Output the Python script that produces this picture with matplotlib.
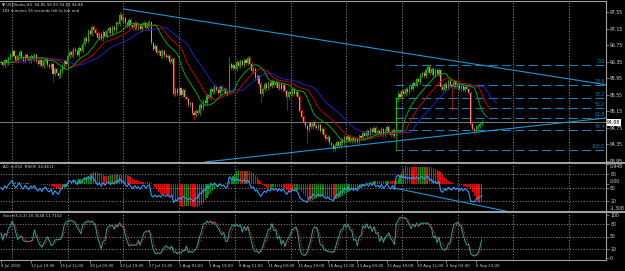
import numpy as np
import pandas as pd
import matplotlib
matplotlib.use("Agg")  # no display in the sandbox
import matplotlib.pyplot as plt
from matplotlib.lines import Line2D

# ── Data (USDIndex H4, 260 bars) ─────────────────────────────────────────────
CLOSE = [
    96.35, 96.28, 96.40, 96.33, 96.45, 96.52, 96.62, 96.48, 96.40, 96.50,
    96.58, 96.46, 96.38, 96.52, 96.44, 96.36, 96.50, 96.42, 96.52, 96.38,
    96.30, 96.40, 96.26, 96.36, 96.42, 96.28, 96.22, 96.30, 96.05, 96.18,
    96.08, 96.00, 96.14, 96.24, 96.36, 96.30, 96.48, 96.58, 96.52, 96.66,
    96.60, 96.52, 96.68, 96.62, 96.78, 96.92, 96.86, 97.10, 97.02, 97.20,
    97.12, 97.04, 96.92, 97.02, 96.90, 97.08, 96.98, 97.10, 97.16, 97.06,
    97.20, 97.12, 97.30, 97.26, 97.48, 97.36, 97.42, 97.28, 97.22, 97.36,
    97.24, 97.16, 97.28, 97.18, 97.24, 97.14, 97.26, 97.30, 97.18, 97.28,
    97.32, 96.80, 96.66, 96.74, 96.56, 96.62, 96.50, 96.60, 96.52, 96.46,
    96.50, 96.34, 96.42, 95.58, 95.70, 95.60, 95.72, 95.54, 95.66, 95.50,
    95.44, 95.30, 95.36, 95.12, 95.06, 95.16, 95.10, 95.30, 95.24, 95.40,
    95.36, 95.54, 95.48, 95.70, 95.62, 95.74, 95.66, 95.60, 95.74, 95.64,
    95.70, 95.58, 95.62, 96.30, 96.20, 96.28, 96.18, 96.34, 96.24, 96.36,
    96.28, 96.40, 96.32, 96.44, 96.30, 96.12, 96.18, 95.96, 96.00, 95.80,
    95.58, 95.70, 95.80, 95.72, 95.84, 95.76, 95.88, 95.78, 95.86, 95.72,
    95.82, 95.70, 95.78, 95.64, 95.50, 95.62, 95.56, 95.68, 95.58, 95.62,
    95.50, 95.16, 95.02, 94.90, 94.80, 94.70, 94.86, 94.76, 94.90, 94.80,
    94.74, 94.82, 94.68, 94.72, 94.58, 94.48, 94.52, 94.38, 94.34, 94.24,
    94.32, 94.40, 94.30, 94.44, 94.38, 94.52, 94.46, 94.56, 94.44, 94.50,
    94.42, 94.48, 94.40, 94.56, 94.50, 94.62, 94.56, 94.68, 94.58, 94.72,
    94.64, 94.74, 94.62, 94.68, 94.60, 94.72, 94.58, 94.66, 94.76, 94.64,
    94.58, 94.70, 94.56, 95.45, 95.58, 95.50, 95.64, 95.56, 95.70, 95.62,
    95.74, 95.68, 95.84, 95.78, 95.94, 95.86, 96.02, 96.08, 96.00, 96.14,
    96.22, 96.08, 96.18, 96.04, 96.14, 96.06, 96.16, 95.74, 95.66, 95.82,
    95.72, 95.88, 95.78, 95.74, 95.86, 95.74, 95.82, 95.68, 95.78, 95.66,
    95.74, 95.68, 95.60, 94.84, 94.72, 94.66, 94.76, 94.80, 94.84, 94.88,
]
FIRST_OPEN = 96.33
WICK = 0.05                       # typical shadow length
# bars with clearly longer shadows: bar -> (high, low)
SPIKES = {
    28: (None, 95.86), 64: (97.56, None), 81: (97.34, None),
    104: (None, 94.94), 123: (96.47, None), 140: (None, 95.37),
    154: (None, 95.18), 165: (None, 94.38), 179: (None, 94.16),
    213: (None, 94.21), 230: (96.27, None), 243: (None, 95.18),
    256: (None, 94.65),
}

LAST_PRICE = 94.88
FIB_HIGH, FIB_LOW = 96.27, 94.21
FIB_RATIOS = [0.0, 23.6, 38.2, 50.0, 61.8, 76.4, 100.0]
FIB_START = 212.5

# trendlines as (bar, value) anchor pairs
TREND_UPPER = [(66.3, 97.63), (326.5, 95.79)]
TREND_LOWER = [(109.9, 93.92), (326.5, 94.99)]
TREND_RSI = [(213.0, 48.0), (273.0, -1.4)]

PRICE_TICKS = [97.55, 97.15, 96.75, 96.35, 95.95, 95.55, 95.15, 94.75, 94.35, 93.95]
XTICK_BARS = list(range(0, 257, 16))
XTICK_LABELS = [
    "8 Jul 2016", "12 Jul 19:00", "15 Jul 11:00", "20 Jul 03:00", "22 Jul 19:00",
    "27 Jul 11:00", "1 Aug 03:00", "3 Aug 19:00", "8 Aug 11:00", "11 Aug 03:00",
    "15 Aug 19:00", "18 Aug 11:00", "23 Aug 03:00", "25 Aug 19:00", "30 Aug 11:00",
    "2 Sep 03:00", "6 Sep 23:00",
]
GRID_BARS = [6, 36, 66, 96, 126, 156, 186, 216, 246, 276, 306]

# ── Colours ──────────────────────────────────────────────────────────────────
BG = "black"
FG = "#d4d4d4"
FRAME = "#a0a0a0"
BULL = "#00c000"
BEAR = "#ff7a7a"
BEAR_WICK = "#d02020"
AO_UP, AO_DN = "#009000", "#f00000"
JAW, TEETH, LIPS = "#2020c8", "#c00000", "#00a800"
TREND_C = "#1f97d4"
FIB_C = "#1a80b8"
GRID_C = "#c4c4c4"

W, H = 625, 271
XMIN, XMAX = -0.54, 326.0


def fy(y):
    return 1 - y / H


# ── Indicators from the price series ─────────────────────────────────────────
close = np.array(CLOSE)
open_ = np.r_[FIRST_OPEN, close[:-1]]
high = np.maximum(open_, close) + WICK
low = np.minimum(open_, close) - WICK
for b, (h, l) in SPIKES.items():
    if h is not None:
        high[b] = h
    if l is not None:
        low[b] = l
bars = np.arange(len(close))

median = pd.Series((high + low) / 2)
jaw = median.ewm(alpha=1 / 13, adjust=False).mean()
teeth = median.ewm(alpha=1 / 8, adjust=False).mean()
lips = median.ewm(alpha=1 / 5, adjust=False).mean()

ao = (median.rolling(5, min_periods=1).mean() - median.rolling(34, min_periods=1).mean()).values
ao_col = [AO_UP if i == 0 or ao[i] >= ao[i - 1] else AO_DN for i in range(len(ao))]

# RSI(9), Wilder smoothing seeded with the average move of the first bars
delta = np.diff(close, prepend=close[0])
seed = np.abs(delta[1:10]).mean() / 2
avg_gain, avg_loss = seed, seed
rsi = []
for d in delta:
    avg_gain = (avg_gain * 8 + max(d, 0)) / 9
    avg_loss = (avg_loss * 8 + max(-d, 0)) / 9
    rsi.append(100 * avg_gain / (avg_gain + avg_loss))

hh = pd.Series(high).rolling(5, min_periods=1).max()
ll = pd.Series(low).rolling(5, min_periods=1).min()
num = (pd.Series(close) - ll).rolling(3, min_periods=1).sum()
den = (hh - ll).rolling(3, min_periods=1).sum()
stoch_k = 100 * num / den
stoch_d = stoch_k.rolling(3, min_periods=1).mean()

# ── Figure ───────────────────────────────────────────────────────────────────
fig = plt.figure(figsize=(W / 100, H / 100), dpi=100, facecolor=BG)
ax1 = fig.add_axes([0, fy(162), 606 / W, 160 / H])
ax2 = fig.add_axes([0, fy(211), 606 / W, 47 / H])
ax3 = fig.add_axes([0, fy(260), 606 / W, 47 / H])
ax2r = ax2.twinx()

for ax in (ax1, ax2, ax2r, ax3):
    ax.set_facecolor(BG)
    ax.set_xlim(XMIN, XMAX)
    for s in ax.spines.values():
        s.set_visible(False)
    ax.tick_params(axis="x", bottom=False, labelbottom=False)
    ax.tick_params(axis="y", left=False, labelleft=False, right=True, labelright=True,
                   length=2, width=0.5, color=FRAME, labelsize=3.3, labelcolor=FG, pad=1)
ax2r.patch.set_visible(False)

for ax in (ax1, ax2, ax3):
    for b in GRID_BARS:
        ax.axvline(b, color=GRID_C, lw=0.5, ls=(0, (1.5, 2.5)), zorder=0)

# ── Main panel: candles, alligator, fib, trendlines ─────────────────────────
ax1.set_ylim(93.92, 97.80)
up = close >= open_
body = np.maximum(np.abs(close - open_), 0.008)
ax1.vlines(bars[up], low[up], high[up], color=BULL, lw=0.5, zorder=2)
ax1.vlines(bars[~up], low[~up], high[~up], color=BEAR_WICK, lw=0.5, zorder=2)
ax1.bar(bars[up], body[up], bottom=open_[up], width=0.6, color=BULL, lw=0, zorder=3)
ax1.bar(bars[~up], body[~up], bottom=close[~up], width=0.6, color=BEAR, lw=0, zorder=3)

ax1.plot(bars + 8, jaw, color=JAW, lw=0.7, zorder=4)
ax1.plot(bars + 5, teeth, color=TEETH, lw=0.7, zorder=4)
ax1.plot(bars + 3, lips, color=LIPS, lw=0.7, zorder=4)

ax1.axhline(LAST_PRICE, color="#7c7c7c", lw=0.7, zorder=1)

fib_levels = [FIB_HIGH - r / 100 * (FIB_HIGH - FIB_LOW) for r in FIB_RATIOS]
ax1.hlines(fib_levels, FIB_START, XMAX, colors=FIB_C, lw=0.8, linestyles=(0, (8, 4)), zorder=1)
for r, lv in zip(FIB_RATIOS, fib_levels):
    ax1.text(325.3, lv + 0.02, f"{r:.1f}", color=FIB_C, fontsize=3.3, ha="right", va="bottom")

for (xa, ya), (xb, yb) in (TREND_UPPER, TREND_LOWER):
    ax1.plot([xa, xb], [ya, yb], color=TREND_C, lw=0.8, zorder=5)

ax1.set_yticks(PRICE_TICKS)
ax1.set_yticklabels([f"{t:.2f}" for t in PRICE_TICKS])
ax1.text(1.002, LAST_PRICE, f"{LAST_PRICE:.2f}", transform=ax1.get_yaxis_transform(),
         fontsize=3.3, color="black", va="center", ha="left",
         bbox=dict(facecolor="white", edgecolor="none", pad=0.6))

# ── AO + RSI(9) panel ────────────────────────────────────────────────────────
ax2.set_ylim(-1.308, 0.948)
ax2.bar(bars, ao, width=0.6, color=ao_col, lw=0, zorder=2)
ax2.set_yticks([0.948, 0.0, -1.308])
ax2.set_yticklabels(["0.948", "0.00", "-1.308"])
ylabels = ax2.get_yticklabels()
ylabels[0].set_va("top")
ylabels[1].set_va("bottom")
ylabels[2].set_va("bottom")

ax2r.set_ylim(-0.4, 100.4)
ax2r.plot(bars, rsi, color="#3399ff", lw=0.8, zorder=3)
for lv in (80, 50, 20):
    ax2r.axhline(lv, color=GRID_C, lw=0.5, ls=(0, (1.5, 2.5)), zorder=0)
ax2r.set_yticks([80, 50, 20])
ax2r.plot([p[0] for p in TREND_RSI], [p[1] for p in TREND_RSI], color=TREND_C, lw=0.8)

# ── Stochastic panel ─────────────────────────────────────────────────────────
ax3.set_ylim(-4.7, 104.7)
ax3.plot(bars, stoch_k, color="#22a8a0", lw=0.7, zorder=3)
ax3.plot(bars, stoch_d, color="#ff3030", lw=0.7, ls=(0, (1, 1.5)), zorder=3)
for lv in (80, 50, 20):
    ax3.axhline(lv, color=GRID_C, lw=0.5, ls=(0, (1.5, 2.5)), zorder=0)
ax3.set_yticks([100, 80, 50, 20, 0])
ax3.tick_params(axis="x", bottom=True, labelbottom=True, length=2, width=0.5,
                color=FRAME, labelsize=2.8, labelcolor=FG, pad=1)
ax3.set_xticks(XTICK_BARS)
ax3.set_xticklabels(XTICK_LABELS, ha="left")

# ── Frame and separators ─────────────────────────────────────────────────────
for x0, x1, y0, y1, lw in [
    (0, 606, 1, 1, 0.8), (606, 606, 1, 260, 0.8), (0, 606, 260, 260, 0.8),
    (0, 625, 163, 163, 1.5), (0, 625, 212, 212, 1.5),
]:
    fig.add_artist(Line2D([x0 / W, x1 / W], [fy(y0), fy(y1)], color=FRAME, lw=lw))

# ── Header texts ─────────────────────────────────────────────────────────────
fig.text(2 / W, fy(4.5), "\u25bc USDIndex,H4  94.85 94.90 94.81 94.88",
         color=FG, fontsize=2.8, va="center")
fig.text(2 / W, fy(10.5), "183 minutes 34 seconds left to bar end",
         color=FG, fontsize=2.8, va="center")
fig.text(3 / W, fy(167), "AO -0.052  RSI(9) 24.4611", color=FG, fontsize=2.8, va="center")
fig.text(3 / W, fy(216), "Stoch(5,3,3) 20.3548 11.7102", color=FG, fontsize=2.8, va="center")

fig.savefig("out.png", dpi=100, facecolor=BG)
